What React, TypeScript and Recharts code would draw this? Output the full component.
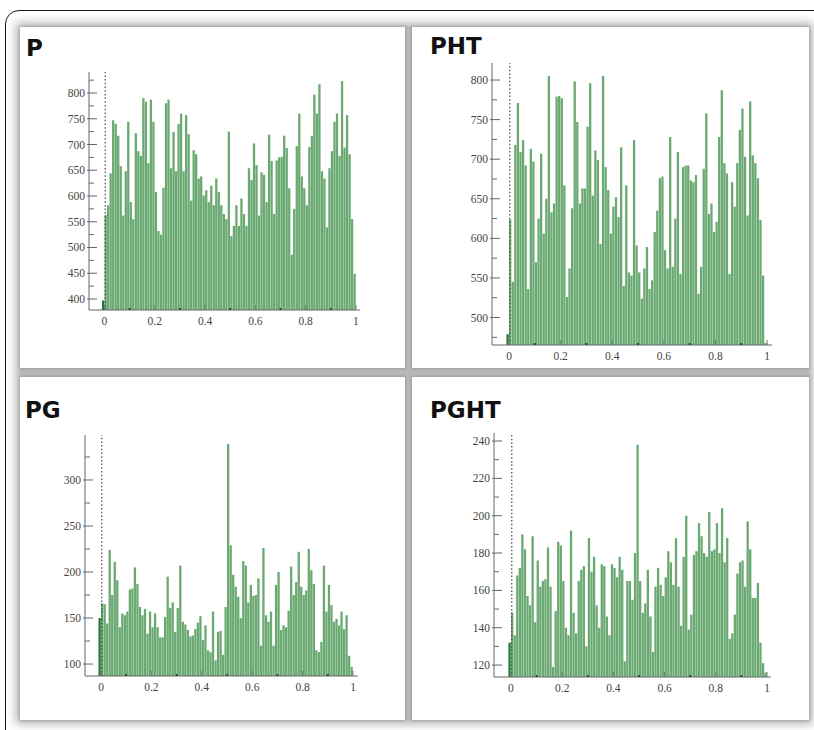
import { BarChart, Bar, XAxis, YAxis, Cell, ReferenceLine } from "recharts";

// bin heights, 100 bins of width 0.01 on [0, 1]
const pValues = [
  563, 582, 644, 747, 740, 717, 658, 562, 648, 744,
  588, 555, 722, 687, 678, 790, 783, 664, 787, 744,
  608, 532, 525, 616, 780, 787, 654, 724, 648, 740,
  760, 648, 757, 720, 591, 689, 681, 634, 638, 601,
  611, 588, 620, 582, 634, 608, 582, 565, 555, 725,
  522, 542, 582, 542, 595, 565, 542, 654, 631, 702,
  660, 562, 646, 641, 588, 719, 668, 565, 669, 675,
  676, 717, 693, 615, 486, 575, 697, 760, 638, 615,
  582, 695, 717, 797, 760, 817, 648, 634, 539, 654,
  687, 744, 760, 678, 823, 694, 757, 681, 555, 449,
];
const phtValues = [
  624, 545, 718, 771, 709, 724, 692, 536, 713, 697,
  570, 625, 707, 606, 650, 805, 633, 644, 779, 780,
  777, 667, 526, 562, 638, 798, 747, 644, 663, 663,
  741, 796, 654, 711, 699, 593, 805, 690, 661, 606,
  640, 652, 627, 715, 540, 667, 557, 553, 724, 591,
  557, 524, 562, 589, 536, 547, 608, 635, 676, 678,
  585, 562, 728, 564, 625, 709, 555, 690, 692, 692,
  673, 671, 680, 530, 564, 688, 758, 631, 644, 608,
  621, 728, 787, 695, 682, 555, 671, 640, 695, 737,
  764, 703, 629, 773, 705, 695, 676, 623, 553, 468,
];
const pgValues = [
  166, 165, 144, 224, 175, 211, 191, 140, 155, 153,
  157, 181, 182, 205, 187, 162, 153, 160, 133, 157,
  140, 155, 140, 129, 129, 151, 195, 161, 167, 135,
  161, 207, 146, 143, 137, 130, 131, 138, 145, 152,
  126, 142, 115, 113, 157, 104, 135, 136, 110, 162,
  339, 229, 197, 184, 173, 150, 212, 207, 167, 186,
  174, 175, 193, 120, 226, 153, 146, 157, 120, 186,
  200, 137, 142, 140, 158, 206, 175, 189, 222, 184,
  175, 180, 225, 202, 187, 115, 113, 124, 207, 157,
  186, 164, 146, 149, 142, 157, 138, 153, 109, 97,
];
const pghtValues = [
  148, 136, 168, 172, 190, 182, 157, 152, 189, 143,
  176, 162, 165, 166, 183, 162, 119, 149, 186, 184,
  165, 140, 136, 192, 148, 137, 165, 171, 173, 130,
  188, 170, 178, 152, 140, 174, 173, 146, 136, 174,
  172, 167, 178, 171, 122, 165, 165, 155, 180, 238,
  165, 148, 153, 171, 146, 127, 162, 172, 163, 157,
  167, 181, 175, 163, 188, 162, 141, 178, 200, 139,
  147, 179, 181, 196, 189, 180, 178, 202, 181, 182,
  196, 180, 204, 175, 188, 134, 137, 147, 169, 175,
  176, 162, 197, 182, 156, 156, 164, 132, 121, 116,
];

// dark bar just left of 0
const pZero = 397;
const phtZero = 479;
const pgZero = 150;
const pghtZero = 132;

const xTicks = [0, 0.1, 0.2, 0.3, 0.4, 0.5, 0.6, 0.7, 0.8, 0.9, 1];
const pTicks = [400, 425, 450, 475, 500, 525, 550, 575, 600, 625, 650, 675, 700, 725, 750, 775, 800, 825];
const phtTicks = [475, 500, 525, 550, 575, 600, 625, 650, 675, 700, 725, 750, 775, 800];
const pgTicks = [100, 125, 150, 175, 200, 225, 250, 275, 300, 325];
const pghtTicks = [120, 130, 140, 150, 160, 170, 180, 190, 200, 210, 220, 230, 240];

const tickFont = "'Liberation Serif', 'DejaVu Serif', serif";

function XTick(props: any) {
  const { x, y, payload } = props;
  const v = payload.value;
  const major = Math.round(v * 10) % 2 === 0;
  const label = v === 0 ? "0" : v === 1 ? "1" : v.toFixed(1);
  return (
    <g>
      <line
        x1={x}
        x2={x}
        y1={y}
        y2={y - (major ? 5 : 2)}
        stroke={major ? "#777" : "#2a3a2a"}
        strokeWidth={major ? 1 : 1.6}
      />
      {major && (
        <text x={x} y={y + 15} textAnchor="middle" fontSize={11.5} fill="#444" fontFamily={tickFont}>
          {label}
        </text>
      )}
    </g>
  );
}

function YTick(props: any) {
  const { x, y, payload, step } = props;
  const v = payload.value;
  const major = Math.round(v) % step === 0;
  return (
    <g>
      <line
        x1={major ? x - 2 : x}
        x2={x + (major ? 8 : 5)}
        y1={y}
        y2={y}
        stroke="#666"
        strokeWidth={1}
      />
      {major && (
        <text x={x - 4} y={y + 4} textAnchor="end" fontSize={11.5} fill="#444" fontFamily={tickFont}>
          {v}
        </text>
      )}
    </g>
  );
}

type Plot = { left: number; top: number; right: number; bottom: number };

function HistPanel(props: {
  values: number[];
  zero: number;
  plot: Plot;
  xDomain: [number, number];
  yDomain: [number, number];
  yTicks: number[];
  step: number;
}) {
  const { values, zero, plot, xDomain, yDomain, yTicks, step } = props;
  const data = [
    { x: -0.005, v: zero, dark: true },
    ...values.map((v, i) => ({ x: (i + 0.5) / 100, v, dark: false })),
  ];
  const w = plot.right - plot.left + 66;
  const h = plot.bottom - plot.top + 38;
  return (
    <div style={{ position: "absolute", left: plot.left - 50, top: plot.top - 14 }}>
      <BarChart
        width={w}
        height={h}
        data={data}
        margin={{ top: 14, right: 16, bottom: 0, left: 0 }}
      >
        <XAxis
          type="number"
          dataKey="x"
          domain={xDomain}
          allowDataOverflow
          ticks={xTicks}
          interval={0}
          tickSize={0}
          tickMargin={0}
          height={24}
          stroke="#666"
          tick={XTick}
        />
        <YAxis
          type="number"
          domain={yDomain}
          allowDataOverflow
          ticks={yTicks}
          interval={0}
          tickSize={0}
          tickMargin={0}
          width={50}
          stroke="#666"
          tick={(p: any) => <YTick {...p} step={step} />}
        />
        <ReferenceLine x={0.003} stroke="#444" strokeWidth={1.2} strokeDasharray="1.5 2.2" />
        <Bar dataKey="v" barSize={2.3} isAnimationActive={false}>
          {data.map((d, i) => (
            <Cell key={i} fill={d.dark ? "#1d7a30" : "#6aa971"} />
          ))}
        </Bar>
      </BarChart>
    </div>
  );
}

const titleStyle: React.CSSProperties = {
  position: "absolute",
  fontFamily: "'DejaVu Sans', Verdana, sans-serif",
  fontWeight: 700,
  fontSize: 23,
  lineHeight: "22px",
  color: "#111",
};

const panelStyle: React.CSSProperties = {
  position: "absolute",
  background: "#fff",
  boxShadow: "0 0 2px 1px rgba(0,0,0,0.15)",
};

export default function App() {
  return (
    <div
      style={{
        position: "absolute",
        left: 0,
        top: 0,
        width: 814,
        height: 730,
        overflow: "hidden",
        background: "#fff",
      }}
    >
      <div
        style={{
          position: "absolute",
          left: 5,
          top: 10,
          width: 840,
          height: 760,
          border: "1.5px solid #1a1a1a",
          borderRadius: 14,
        }}
      />
      <div
        style={{
          position: "absolute",
          left: 20,
          top: 27,
          width: 789,
          height: 693,
          background: "#b8b8b8",
          boxShadow: "0 0 9px 4px rgba(0,0,0,0.3)",
        }}
      />
      <div style={{ ...panelStyle, left: 20, top: 27, width: 385, height: 341 }} />
      <div style={{ ...panelStyle, left: 412, top: 27, width: 397, height: 341 }} />
      <div style={{ ...panelStyle, left: 20, top: 377, width: 385, height: 343 }} />
      <div style={{ ...panelStyle, left: 412, top: 377, width: 397, height: 343 }} />

      <div style={{ ...titleStyle, left: 26, top: 37 }}>P</div>
      <div style={{ ...titleStyle, left: 430, top: 35 }}>PHT</div>
      <div style={{ ...titleStyle, left: 25, top: 399 }}>PG</div>
      <div style={{ ...titleStyle, left: 430, top: 399 }}>PGHT</div>

      <HistPanel
        values={pValues}
        zero={pZero}
        plot={{ left: 89, top: 72, right: 360, bottom: 310 }}
        xDomain={[-0.0616, 1.016]}
        yDomain={[378.6, 840.8]}
        yTicks={pTicks}
        step={50}
      />
      <HistPanel
        values={phtValues}
        zero={phtZero}
        plot={{ left: 492, top: 63, right: 772, bottom: 345 }}
        xDomain={[-0.066, 1.019]}
        yDomain={[465.3, 821.5]}
        yTicks={phtTicks}
        step={50}
      />
      <HistPanel
        values={pgValues}
        zero={pgZero}
        plot={{ left: 85, top: 435, right: 358, bottom: 676 }}
        xDomain={[-0.0635, 1.0198]}
        yDomain={[87, 348.9]}
        yTicks={pgTicks}
        step={50}
      />
      <HistPanel
        values={pghtValues}
        zero={pghtZero}
        plot={{ left: 494, top: 433, right: 771, bottom: 677 }}
        xDomain={[-0.0664, 1.0156]}
        yDomain={[113.6, 244.3]}
        yTicks={pghtTicks}
        step={20}
      />
    </div>
  );
}
